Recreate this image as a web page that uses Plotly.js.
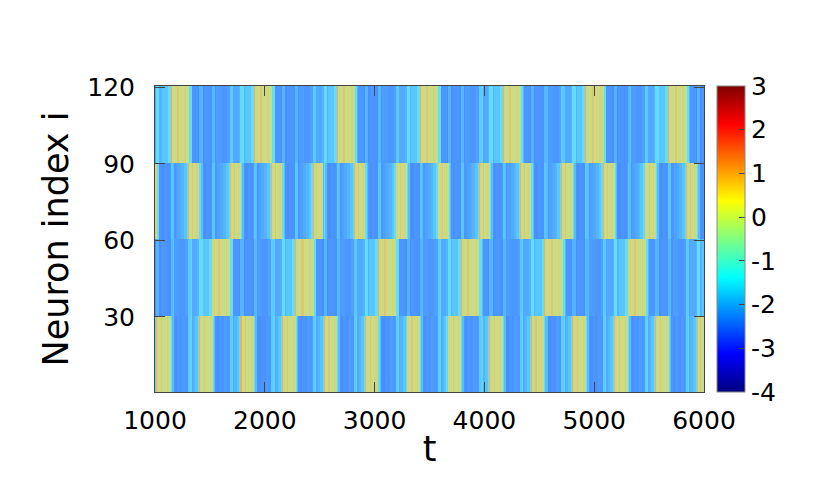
<!DOCTYPE html>
<html>
<head>
<meta charset="utf-8">
<script src="https://cdn.plot.ly/plotly-3.0.1.min.js"></script>
<style>html,body{margin:0;padding:0;background:#fff;}#chart{width:830px;height:498px;}</style>
</head>
<body>
<div id="chart"></div>
<script>
// ---- values ----
const tRange = [1000, 6000];
const tStep = 5;
const groupRows = [[1, 30], [31, 60], [61, 90], [91, 120]];
// burst (active) windows per group: start times and end times
const g1Start = [1009, 1404, 1780, 2159, 2539, 2913, 3292, 3662, 4042, 4422, 4800, 5180, 5554, 5933];
const g1End   = [1143, 1526, 1902, 2281, 2655, 3034, 3413, 3787, 4163, 4543, 4922, 5301, 5676, 6010];
const g2Start = [1516, 2275, 3028, 3784, 4543, 5301];
const g2End   = [1683, 2442, 3195, 3951, 4710, 5468];
const g3Start = [ 960, 1303, 1683, 2057, 2436, 2812, 3192, 3571, 3951, 4324, 4700, 5077, 5456, 5833];
const g3End   = [1020, 1404, 1780, 2159, 2532, 2913, 3292, 3671, 4045, 4424, 4800, 5180, 5559, 5933];
const g4Start = [1143, 1902, 2655, 3413, 4163, 4916, 5669];
const g4End   = [1310, 2063, 2822, 3575, 4331, 5083, 5842];
// value profile across a burst (start -> end) and across a quiet gap (end -> next start)
const burstProfile = [0.6, 0.1, -0.05, 0.05, 0.3, -0.05, 0.05, -0.1, 0.15, -0.2, -0.45];
const gapProfile = [-1.8, -2.2, -2.3, -2.2, -2.25, -2.1, -2.2, -2.05, -1.95, -1.85, -1.65, -1.35];
const inputStripe = 0.45;   // lift seen when another group starts a burst
const inputWidth = 30;
// colour bar ticks
const cbTicks = [-4, -3, -2, -1, 0, 1, 2, 3];
const yTicks = [30, 60, 90, 120];
const xTicks = [1000, 2000, 3000, 4000, 5000, 6000];

// ---- build the matrix ----
const starts = [g1Start, g2Start, g3Start, g4Start];
const ends = [g1End, g2End, g3End, g4End];
const tAxis = [];
for (let t = tRange[0]; t <= tRange[1]; t += tStep) tAxis.push(t);
function pick(arr, f) {
  let k = Math.round(f * (arr.length - 1));
  if (k < 0) k = 0; if (k > arr.length - 1) k = arr.length - 1;
  return arr[k];
}
function rowFor(g) {
  const S = starts[g], E = ends[g];
  const per = S[1] - S[0];
  return tAxis.map(t => {
    let v = null;
    for (let k = 0; k < S.length; k++) {
      if (t >= S[k] && t <= E[k]) { v = pick(burstProfile, (t - S[k]) / (E[k] - S[k])); break; }
    }
    if (v === null) {
      let pe = E[0] - per, ns = S[S.length - 1] + per;
      for (let k = 0; k < S.length; k++) {
        if (E[k] < t) pe = E[k];
        if (S[k] > t) { ns = S[k]; break; }
      }
      v = pick(gapProfile, (t - pe) / (ns - pe));
      for (let o = 0; o < 4; o++) {
        if (o === g) continue;
        for (const s of starts[o]) if (t >= s && t < s + inputWidth) v += inputStripe;
      }
    }
    return v;
  });
}
const groupValues = [0, 1, 2, 3].map(rowFor);
const yIdx = [], z = [];
for (let g = 0; g < 4; g++) {
  for (let i = groupRows[g][0]; i <= groupRows[g][1]; i++) { yIdx.push(i); z.push(groupValues[g]); }
}

const jet = [[0, 'rgb(0,0,128)'], [0.125, 'rgb(0,0,255)'], [0.375, 'rgb(0,255,255)'],
             [0.625, 'rgb(255,255,0)'], [0.875, 'rgb(255,0,0)'], [1, 'rgb(128,0,0)']];
// rendered tones of the raster (fine-scale spikes blend to softer tones)
function p(zv) { return (zv + 4) / 7; }
const rasterScale = [
  [0, 'rgb(30,60,230)'], [p(-2.6), 'rgb(60,120,255)'], [p(-2.3), 'rgb(72,142,255)'],
  [p(-2.0), 'rgb(80,165,255)'], [p(-1.7), 'rgb(85,195,255)'], [p(-1.4), 'rgb(100,220,245)'],
  [p(-1.0), 'rgb(140,225,200)'], [p(-0.5), 'rgb(180,225,150)'], [p(0), 'rgb(205,220,130)'],
  [p(0.5), 'rgb(228,185,108)'], [p(1), 'rgb(235,150,90)'], [1, 'rgb(200,60,60)']
];

const font = 'DejaVu Sans, sans-serif';
const traces = [
  { type: 'heatmap', x: tAxis, y: yIdx, z: z, zmin: -4, zmax: 3, colorscale: rasterScale,
    showscale: false, hoverinfo: 'skip' },
  { type: 'scatter', mode: 'markers', x: [tRange[0]], y: [-50], hoverinfo: 'skip', showlegend: false,
    marker: { color: [0], cmin: -4, cmax: 3, colorscale: jet, showscale: true, size: 1,
      colorbar: { x: 1.0237, xanchor: 'left', xpad: 0, ypad: 0, y: 0.5, yanchor: 'middle', len: 1,
        thickness: 28, outlinewidth: 1, outlinecolor: '#888', ticks: 'inside', ticklen: 6,
        tickcolor: '#444', tickvals: cbTicks, ticktext: cbTicks.map(String),
        tickfont: { family: font, size: 25, color: '#000' } } } }
];
const layout = {
  width: 830, height: 498,
  margin: { l: 155, r: 126, t: 86, b: 106 },
  paper_bgcolor: '#fff', plot_bgcolor: '#fff',
  showlegend: false,
  font: { family: font, color: '#000' },
  xaxis: { range: tRange, tickvals: xTicks, ticktext: xTicks.map(String), ticks: 'inside', ticklen: 10,
    tickcolor: '#444', mirror: 'ticks', showline: true, linecolor: '#444', linewidth: 1, showgrid: false,
    zeroline: false, tickfont: { size: 25, family: font }, ticklabelstandoff: 6,
    title: { text: 't', font: { size: 35, family: font }, standoff: 2 } },
  yaxis: { range: [0.5, 120.5], tickvals: yTicks, ticktext: yTicks.map(String), ticks: 'inside', ticklen: 10,
    tickcolor: '#444', mirror: 'ticks', showline: true, linecolor: '#444', linewidth: 1, showgrid: false,
    zeroline: false, tickfont: { size: 25, family: font }, ticklabelstandoff: 14,
    title: { text: 'Neuron index i', font: { size: 35, family: font }, standoff: 8 } }
};
Plotly.newPlot('chart', traces, layout, { displayModeBar: false, staticPlot: true });
</script>
</body>
</html>
